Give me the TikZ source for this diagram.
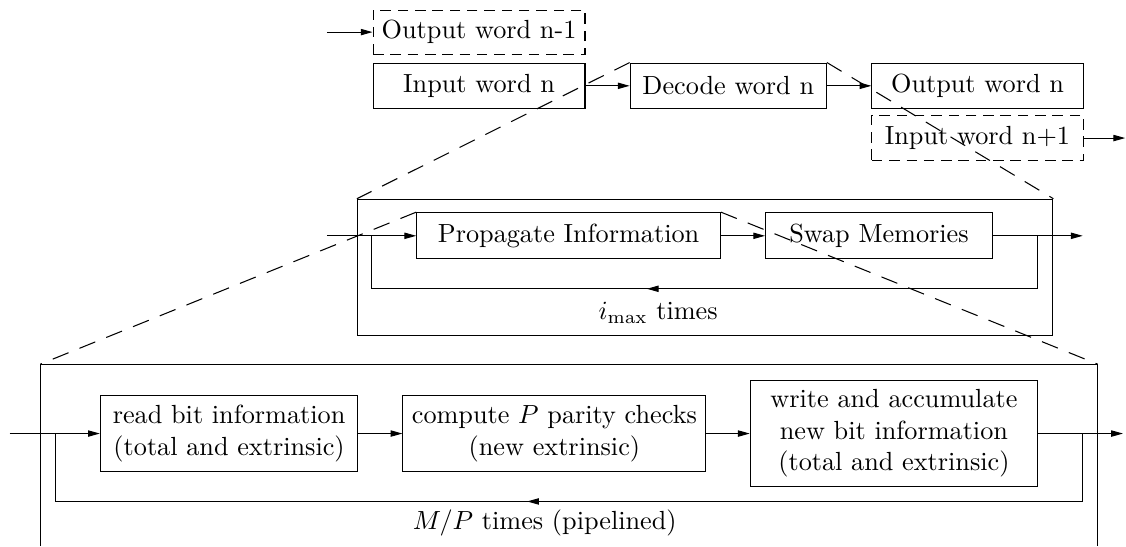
\documentclass[tikz,border=0pt]{standalone}
\usepackage{tikz}
\usetikzlibrary{
  arrows.meta,
  positioning,
  decorations.markings
}
\usepackage{amsmath}

\begin{document}
\begin{tikzpicture}[
  box/.style={
    draw, align=center,
    inner sep=2pt,
    minimum height=0.61cm},
  dbox/.style={box,
    dash pattern=on 4pt off 2.6pt},
  arrow/.style={
    -{Triangle[length=4.5pt, width=2.4pt]}},
  zoomline/.style={
    dash pattern=on 6.5pt off 4.5pt},
  loopback/.style={
    postaction={decorate},
    decoration={markings,
      mark=at position #1 with
      {\arrow{Triangle[length=4.5pt, width=2.4pt]}}}},
  note/.style={
    align=center}
]
\useasboundingbox (0,0) rectangle (15.09,-7.32);

% words through the decoder
\node[dbox, minimum width=2.84cm, minimum height=0.59cm]
  (outprev) at (6.42,-0.43) {Output word n-1};
\node[box, minimum width=2.84cm] (inw) at (6.42,-1.15)
  {Input word n};
\node[box, minimum width=2.63cm] (dec) at (9.76,-1.15)
  {Decode word n};
\node[box, minimum width=2.83cm] (outw) at (13.10,-1.15)
  {Output word n};
\node[dbox, minimum width=2.83cm] (innext) at (13.10,-1.85)
  {Input word n+1};
\coordinate (previn) at (4.38,-0.43);
\coordinate (nextout) at (15.08,-1.85);

\draw[arrow] (previn) -- (outprev);
\draw[arrow] (inw) -- (dec);
\draw[arrow] (dec) -- (outw);
\draw[arrow] (innext) -- (nextout);

% iterations
\node[draw, minimum width=9.32cm, minimum height=1.82cm,
  inner sep=0pt] (iter) at (9.45,-3.58) {};
\node[box, minimum width=4.07cm, minimum height=0.62cm]
  (prop) at (7.62,-3.16) {Propagate Information};
\node[box, minimum width=3.04cm, minimum height=0.62cm]
  (swap) at (11.78,-3.16) {Swap Memories};
\node[note] (imax) at (8.82,-4.19) {$i_{\max}$ times};
\coordinate (iterin) at (4.38,-3.16);
\coordinate (iterout) at (14.51,-3.16);
\coordinate (iterback) at (13.91,-3.87);
\coordinate (iterfwd) at (4.98,-3.87);

\draw[arrow] (iterin) -- (prop);
\draw[arrow] (prop) -- (swap);
\draw[arrow] (swap) -- (iterout);
\draw[loopback=0.575] (iterback |- swap.east) -- (iterback)
  -- (iterfwd) -- (iterfwd |- prop.west);

% one iteration, pipelined
\coordinate (pipeNW) at (0.54,-4.88);
\coordinate (pipeNE) at (14.71,-4.88);
\draw (0.54,-7.32) -- (pipeNW) -- (pipeNE) -- (14.71,-7.32);
\node[box, minimum width=3.45cm, minimum height=1.01cm]
  (read) at (3.07,-5.81)
  {read bit information\\(total and extrinsic)};
\node[box, minimum width=4.06cm, minimum height=1.01cm]
  (comp) at (7.43,-5.81)
  {compute $P$ parity checks\\(new extrinsic)};
\node[box, minimum width=3.85cm, minimum height=1.41cm]
  (write) at (11.98,-5.81)
  {write and accumulate\\new bit information\\
  (total and extrinsic)};
\node[note] (mp) at (7.30,-7.01) {$M/P$ times (pipelined)};
\coordinate (pipein) at (0.13,-5.81);
\coordinate (pipeout) at (15.05,-5.81);
\coordinate (pipeback) at (14.51,-6.72);
\coordinate (pipefwd) at (0.74,-6.72);

\draw[arrow] (pipein) -- (read);
\draw[arrow] (read) -- (comp);
\draw[arrow] (comp) -- (write);
\draw[arrow] (write) -- (pipeout);
\draw[loopback=0.536] (pipeback |- write.east) -- (pipeback)
  -- (pipefwd) -- (pipefwd |- read.west);

% zoom lines
\draw[zoomline] (dec.north west) -- (iter.north west);
\draw[zoomline] (dec.north east) -- (iter.north east);
\draw[zoomline] (prop.north west) -- (pipeNW);
\draw[zoomline] (prop.north east) -- (pipeNE);

\end{tikzpicture}
\end{document}
